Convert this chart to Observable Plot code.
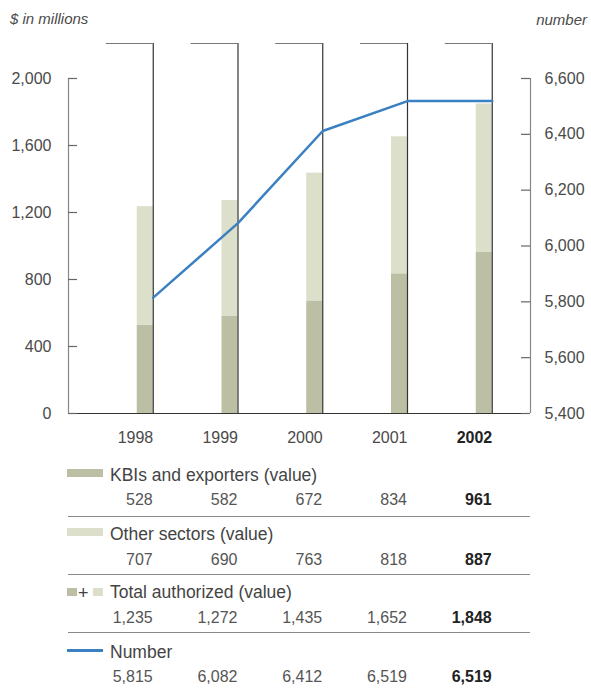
<!DOCTYPE html>
<html><head><meta charset="utf-8">
<script src="https://cdn.jsdelivr.net/npm/d3@7"></script>
<script src="https://cdn.jsdelivr.net/npm/@observablehq/plot@0.6"></script>
<style>
body{margin:0;background:#fff;font-family:"Liberation Sans",Arial,sans-serif;color:#4a4a4a}
#wrap{position:relative;width:591px;height:689px;overflow:hidden}
#wrap svg{position:absolute;left:0;top:0}
.abs{position:absolute;white-space:nowrap;line-height:20px}
.hdr{font-style:italic;font-size:15px;color:#4a4a4a}
.lab{font-size:17.5px;color:#444}
.val{font-size:16px;color:#555;text-align:right}
.val.b{font-weight:bold;color:#222}
.sep{position:absolute;height:0;border-top:1.5px solid #8a8a8a}
.sw{position:absolute}
</style></head><body><div id="wrap"></div>
<script>
// ---- data ----
const years = [1998, 1999, 2000, 2001, 2002];
const kbiValues = [528, 582, 672, 834, 961];
const otherValues = [707, 690, 763, 818, 887];
const totalValues = [1235, 1272, 1435, 1652, 1848];
const numberValues = [5815, 6082, 6412, 6519, 6519];
const leftTicks = [0, 400, 800, 1200, 1600, 2000];
const rightTicks = [5400, 5600, 5800, 6000, 6200, 6400, 6600];
const seriesLabels = ["KBIs and exporters (value)", "Other sectors (value)", "Total authorized (value)", "Number"];
const leftTitle = "$ in millions";
const rightTitle = "number";
const boldYear = 2002;

// ---- derived ----
const data = years.map((year, i) => ({year, kbi: kbiValues[i], other: otherValues[i], total: totalValues[i], number: numberValues[i]}));
const numMin = 5400, numMax = 6600, valMax = 2000;
const toLeft = v => (v - numMin) / (numMax - numMin) * valMax;
const fromLeft = v => v / valMax * (numMax - numMin) + numMin;
const fmt = d3.format(",");

const pxPerYear = 84.75;
const X0 = 1997, XMAX = X0 + 462 / pxPerYear;
const YTOP = valMax * 370 / 335;
const barW = 16 / pxPerYear, bracketW = 47 / pxPerYear, tickW = 9 / pxPerYear;

const C_DARK = "#bcbfa3", C_LIGHT = "#dcdfc9", C_BLUE = "#3b80c1";

const chart = Plot.plot({
  width: 591, height: 450,
  marginLeft: 68, marginRight: 61, marginTop: 43, marginBottom: 37,
  x: {type: "linear", domain: [X0, XMAX], axis: null, label: null},
  y: {domain: [0, YTOP], label: null},
  style: {fontFamily: "Liberation Sans, Arial, sans-serif", fontSize: "16px", color: "#4a4a4a", background: "transparent"},
  marks: [
    Plot.rectY(data, {x1: d => d.year - barW, x2: d => d.year, y1: () => 0, y2: d => d.kbi, fill: C_DARK}),
    Plot.rectY(data, {x1: d => d.year - barW, x2: d => d.year, y1: d => d.kbi, y2: d => d.kbi + d.other, fill: C_LIGHT}),
    // brackets
    Plot.ruleX(years, {x: d => d, y1: () => 0, y2: () => YTOP, stroke: "#333", strokeWidth: 1.2}),
    Plot.ruleY(years, {y: () => YTOP, x1: d => d - bracketW, x2: d => d, stroke: "#777", strokeWidth: 1.2}),
    // frame
    Plot.ruleX([X0], {y1: 0, y2: valMax, stroke: "#888", strokeWidth: 1.2}),
    Plot.ruleX([XMAX], {y1: 0, y2: valMax, stroke: "#888", strokeWidth: 1.2}),
    Plot.ruleY([0], {x1: X0, x2: XMAX, stroke: "#333", strokeWidth: 1.2}),
    Plot.ruleY(leftTicks, {y: d => d, x1: () => X0, x2: () => X0 + tickW, stroke: "#666", strokeWidth: 1.2}),
    Plot.ruleY(rightTicks, {y: d => toLeft(d), x1: () => XMAX - tickW, x2: () => XMAX, stroke: "#666", strokeWidth: 1.2}),
    Plot.axisY(leftTicks, {anchor: "left", tickSize: 0, tickPadding: 17, tickFormat: fmt, fill: "#4a4a4a"}),
    Plot.axisY(rightTicks.map(toLeft), {anchor: "right", tickSize: 0, tickPadding: 14, tickFormat: v => fmt(Math.round(fromLeft(v))), fill: "#4a4a4a"}),
    // year labels
    Plot.text(years.filter(y => y !== boldYear), {x: d => d, y: () => 0, dy: 24, textAnchor: "end", text: d => String(d), fill: "#4a4a4a"}),
    Plot.text(years.filter(y => y === boldYear), {x: d => d, y: () => 0, dy: 24, textAnchor: "end", text: d => String(d), fill: "#222", fontWeight: "bold"}),
    // number line
    Plot.line(data, {x: d => d.year, y: d => toLeft(d.number), stroke: C_BLUE, strokeWidth: 2.5})
  ]
});

const wrap = document.getElementById("wrap");
wrap.appendChild(chart);
const xs = chart.scale("x");
const xPix = v => xs.apply(v);

function addDiv(cls, text, style) {
  const d = document.createElement("div");
  d.className = cls;
  if (text != null) d.textContent = text;
  Object.assign(d.style, style);
  wrap.appendChild(d);
  return d;
}
// titles
addDiv("abs hdr", leftTitle, {left: "10px", top: (23 - 14.5) + "px"});
addDiv("abs hdr", rightTitle, {right: (591 - 587) + "px", top: (24 - 14.5) + "px"});

// legend table
const labelBase = [481, 540, 598, 658];
const valueBase = [505, 565, 623, 682];
const sepY = [517, 575, 633];
const rowValues = [kbiValues, otherValues, totalValues, numberValues];
const left = xPix(X0), right = xPix(XMAX);

seriesLabels.forEach((lab, r) => {
  addDiv("abs lab", lab, {left: "110px", top: (labelBase[r] - 16) + "px"});
  rowValues[r].forEach((v, i) => {
    const xr = xPix(years[i]);
    addDiv("abs val" + (years[i] === boldYear ? " b" : ""), fmt(v), {left: (xr - 80) + "px", width: "80px", top: (valueBase[r] - 15.5) + "px"});
  });
});
sepY.forEach(y => addDiv("sep", null, {left: left + "px", width: (right - left) + "px", top: (y - 0.75) + "px"}));

// swatches
addDiv("sw", null, {left: "67px", top: "469px", width: "36px", height: "8px", background: C_DARK});
addDiv("sw", null, {left: "67px", top: "528px", width: "36px", height: "8px", background: C_LIGHT});
addDiv("sw", null, {left: "67px", top: "588px", width: "10px", height: "8px", background: C_DARK});
addDiv("abs", "+", {left: "78px", top: (599 - 16) + "px", fontSize: "18px", color: "#444"});
addDiv("sw", null, {left: "93px", top: "588px", width: "10px", height: "8px", background: C_LIGHT});
addDiv("sw", null, {left: "67px", top: "649px", width: "36px", height: "2.5px", background: C_BLUE});
</script>
</body></html>
